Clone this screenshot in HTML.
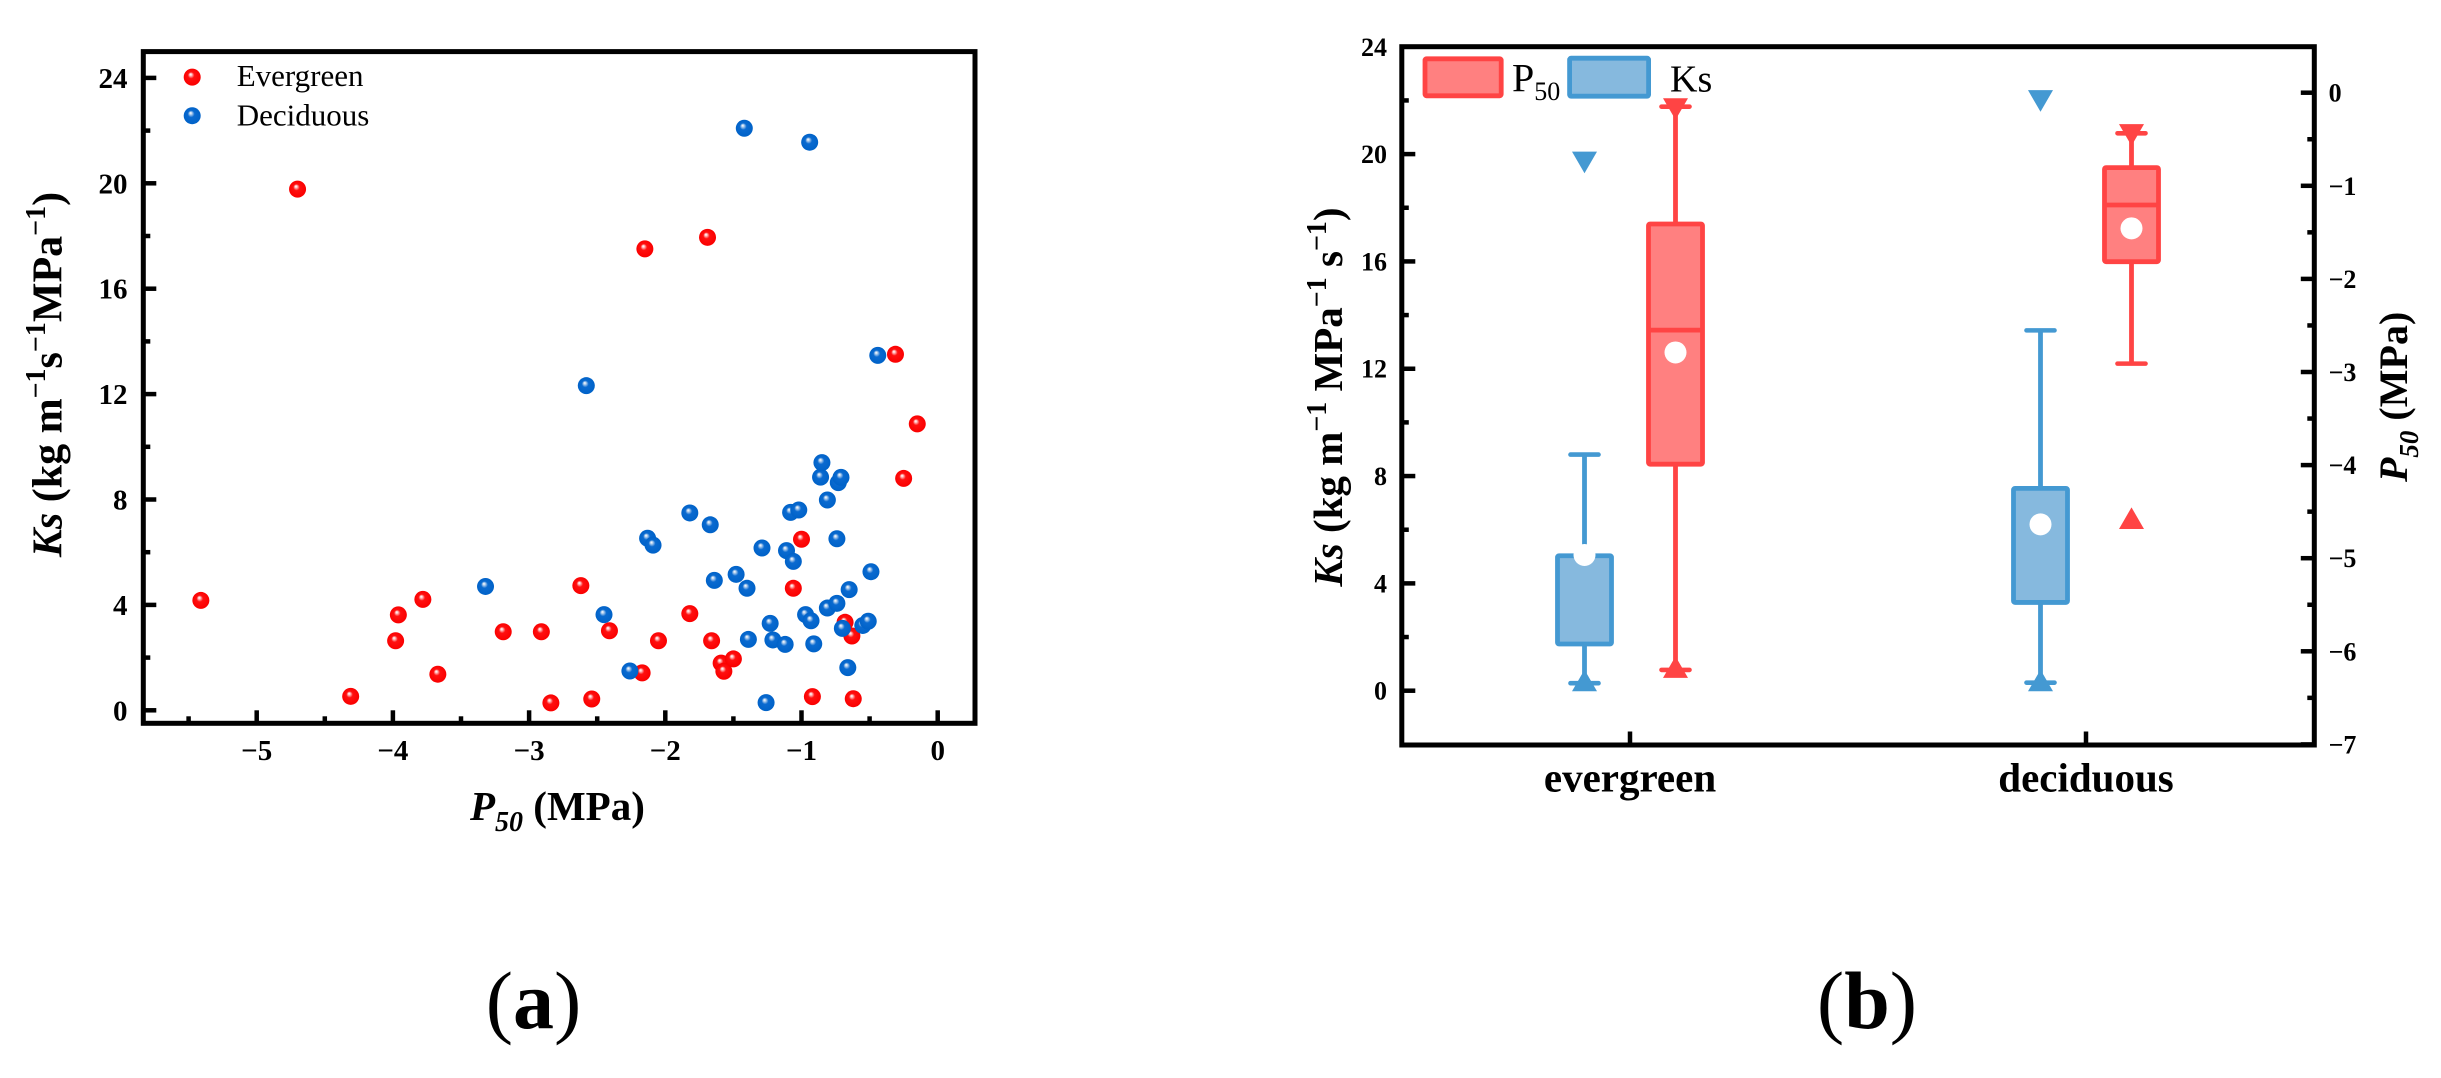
<!DOCTYPE html>
<html>
<head>
<meta charset="utf-8">
<title>Ks and P50 of evergreen and deciduous species</title>
<style>
html,body{margin:0;padding:0;background:#fff;}
svg{display:block;font-family:"Liberation Serif",serif;}
</style>
</head>
<body>
<svg id="fig" xmlns="http://www.w3.org/2000/svg" width="2441" height="1078" viewBox="0 0 2441 1078">
<defs>
<radialGradient id="ballRed" cx="50%" cy="50%" r="50%" fx="40%" fy="33%">
<stop offset="0%" stop-color="#ffffff"/><stop offset="12%" stop-color="#ffd0d0"/><stop offset="38%" stop-color="#ff1010"/><stop offset="100%" stop-color="#fa0000"/>
</radialGradient>
<radialGradient id="ballBlue" cx="50%" cy="50%" r="50%" fx="40%" fy="33%">
<stop offset="0%" stop-color="#ffffff"/><stop offset="12%" stop-color="#c8dcf2"/><stop offset="40%" stop-color="#0a6ad0"/><stop offset="100%" stop-color="#0062c8"/>
</radialGradient>
</defs>
<rect x="0" y="0" width="2441" height="1078" fill="#ffffff"/>

<g id="panelA"></g>
<g id="panelB"></g>

<g>
<circle cx="192.2" cy="77.1" r="8.5" fill="url(#ballRed)"/>
<text x="236.7" y="86" font-size="31">Evergreen</text>
<circle cx="192.2" cy="115.7" r="8.5" fill="url(#ballBlue)"/>
<text x="236.7" y="125.7" font-size="31">Deciduous</text>
</g>

<text x="470" y="820" font-size="41" font-weight="bold"><tspan font-style="italic">P</tspan><tspan font-style="italic" font-size="28" dy="11">50</tspan><tspan dy="-11"> (MPa)</tspan></text>
<text transform="translate(61.7 374.5) rotate(-90)" text-anchor="middle" font-size="42" font-weight="bold"><tspan font-style="italic">Ks</tspan> (kg m<tspan font-size="28" dy="-16.7">−1</tspan><tspan dy="16.7">s</tspan><tspan font-size="28" dy="-16.7">−1</tspan><tspan dy="16.7">MPa</tspan><tspan font-size="28" dy="-16.7">−1</tspan><tspan dy="16.7">)</tspan></text>

<g>
<rect x="1425" y="58.8" width="76.2" height="37" rx="1.5" fill="#ff8080" stroke="#ff4444" stroke-width="4.8"/>
<text x="1512" y="91.7" font-size="40">P<tspan font-size="26" dy="8.5">50</tspan></text>
<rect x="1569.6" y="58.2" width="79" height="38" rx="1.5" fill="#86b9de" stroke="#4499d2" stroke-width="4.8"/>
<text x="1670" y="91.7" font-size="38">Ks</text>
</g>

<text transform="translate(1341.8 397) rotate(-90)" text-anchor="middle" font-size="41" font-weight="bold"><tspan font-style="italic">Ks</tspan> (kg m<tspan font-size="28" dy="-16">−1</tspan><tspan dy="16"> MPa</tspan><tspan font-size="28" dy="-16">−1</tspan><tspan dy="16"> s</tspan><tspan font-size="28" dy="-16">−1</tspan><tspan dy="16">)</tspan></text>
<text transform="translate(2407 482) rotate(-90)" font-size="40" font-weight="bold"><tspan font-style="italic">P</tspan><tspan font-style="italic" font-size="27" dy="11">50</tspan><tspan dy="-11"> (MPa)</tspan></text>

<text x="533.5" y="1028" text-anchor="middle" font-size="82">(<tspan font-weight="bold">a</tspan>)</text>
<text x="1867" y="1028" text-anchor="middle" font-size="82">(<tspan font-weight="bold">b</tspan>)</text>
</svg>

<script>
/* ---------- Panel (a) scatter data ---------- */
const evergreenP50 = [-5.41,-4.70,-4.31,-3.98,-3.96,-3.78,-3.67,-3.19,-2.91,-2.84,-2.62,-2.54,-2.41,-2.17,-2.15,-2.05,-1.82,-1.69,-1.66,-1.59,-1.57,-1.50,-1.06,-1.00,-0.92,-0.68,-0.63,-0.62,-0.31,-0.25,-0.15];
const evergreenKs = [4.17,19.78,0.53,2.64,3.62,4.21,1.37,2.98,2.98,0.28,4.73,0.43,3.02,1.42,17.51,2.64,3.67,17.95,2.64,1.79,1.48,1.95,4.63,6.49,0.52,3.34,2.82,0.44,13.51,8.80,10.87];
const deciduousP50 = [-3.32,-2.58,-2.45,-2.26,-2.13,-2.09,-1.82,-1.67,-1.64,-1.48,-1.42,-1.40,-1.39,-1.29,-1.26,-1.23,-1.21,-1.12,-1.11,-1.08,-1.06,-1.02,-0.97,-0.94,-0.93,-0.91,-0.86,-0.85,-0.81,-0.81,-0.74,-0.74,-0.73,-0.71,-0.70,-0.66,-0.65,-0.55,-0.51,-0.49,-0.44];
const deciduousKs = [4.70,12.32,3.63,1.49,6.53,6.27,7.49,7.04,4.93,5.16,22.09,4.63,2.69,6.16,0.29,3.30,2.67,2.50,6.06,7.51,5.65,7.60,3.63,21.56,3.40,2.52,8.85,9.40,7.98,3.88,6.51,4.06,8.64,8.84,3.11,1.62,4.58,3.22,3.38,5.26,13.47];
const scatterXTicks = [-5,-4,-3,-2,-1,0];
const scatterXMinor = [-5.5,-4.5,-3.5,-2.5,-1.5,-0.5];
const scatterYTicks = [0,4,8,12,16,20,24];
const scatterYMinor = [2,6,10,14,18,22];

/* ---------- Panel (b) box data ---------- */
const categories = ['evergreen','deciduous'];
const ksWhiskerLow = [0.28,0.30];
const ksQ1 = [1.74,3.29];
const ksQ3 = [5.03,7.54];
const ksWhiskerHigh = [8.80,13.43];
const ksMean = [5.06,6.20];
const ksMaxMarker = [19.69,21.98];
const ksMinMarker = [0.38,0.38];
const p50WhiskerLow = [-6.20,-2.91];
const p50Q1 = [-3.99,-1.815];
const p50Median = [-2.55,-1.206];
const p50Q3 = [-1.41,-0.805];
const p50WhiskerHigh = [-0.15,-0.436];
const p50Mean = [-2.79,-1.457];
const p50MaxMarker = [-0.175,-0.454];
const p50MinMarker = [-6.17,-4.57];
const ksTicks = [0,4,8,12,16,20,24];
const ksMinor = [2,6,10,14,18,22];
const p50Ticks = [0,-1,-2,-3,-4,-5,-6,-7];
const p50Minor = [-0.5,-1.5,-2.5,-3.5,-4.5,-5.5,-6.5];

const NS = 'http://www.w3.org/2000/svg';
function make(parent, tag, attrs, text){
  const el = document.createElementNS(NS, tag);
  for (const k in attrs) el.setAttribute(k, attrs[k]);
  if (text !== undefined) el.textContent = text;
  parent.appendChild(el);
  return el;
}
function fmt(v){ return v < 0 ? '−' + Math.abs(v) : String(v); }

/* axis functions */
const xA = v => 937.7 + 136.2 * v;
const yA = v => 710.3 - 26.35 * v;
const xB = i => 1630 + 456 * i;
const yKs = v => 690.7 - 26.83 * v;
const yP = v => 92.7 + 93.1 * -v;

/* ---------- Panel (a) ---------- */
const A = document.getElementById('panelA');
const aLeft = 143.3, aRight = 975, aTop = 51.6, aBottom = 723.3;

const frameA = make(A, 'rect', {x:aLeft, y:aTop, width:aRight-aLeft, height:aBottom-aTop, fill:'none', stroke:'#000', 'stroke-width':5});



scatterYTicks.forEach(v => {
  const t = make(A, 'line', {x1:aLeft, x2:aLeft+13, y1:yA(v), y2:yA(v), stroke:'#000', 'stroke-width':4.5});
  
  
  const l = make(A, 'text', {x:127.5, y:yA(v)+10, 'text-anchor':'end', 'font-size':29, 'font-weight':'bold'}, fmt(v));
  
  
});
scatterYMinor.forEach(v => {
  const t = make(A, 'line', {x1:aLeft, x2:aLeft+7, y1:yA(v), y2:yA(v), stroke:'#000', 'stroke-width':4.5});
  
  
});
scatterXTicks.forEach(v => {
  const t = make(A, 'line', {x1:xA(v), x2:xA(v), y1:aBottom, y2:aBottom-13, stroke:'#000', 'stroke-width':4.5});
  
  
  const l = make(A, 'text', {x:xA(v), y:760, 'text-anchor':'middle', 'font-size':29, 'font-weight':'bold'}, fmt(v));
  
  
});
scatterXMinor.forEach(v => {
  const t = make(A, 'line', {x1:xA(v), x2:xA(v), y1:aBottom, y2:aBottom-7, stroke:'#000', 'stroke-width':4.5});
  
  
});
evergreenP50.forEach((v, i) => {
  const c = make(A, 'circle', {cx:xA(v), cy:yA(evergreenKs[i]), r:8.5, fill:'url(#ballRed)'});
  
  
});
deciduousP50.forEach((v, i) => {
  const c = make(A, 'circle', {cx:xA(v), cy:yA(deciduousKs[i]), r:8.5, fill:'url(#ballBlue)'});
  
  
});

/* ---------- Panel (b) ---------- */
const B = document.getElementById('panelB');
const bLeft = 1401.8, bRight = 2314.3, bTop = 46.7, bBottom = 745;

const frameB = make(B, 'rect', {x:bLeft, y:bTop, width:bRight-bLeft, height:bBottom-bTop, fill:'none', stroke:'#000', 'stroke-width':5});



ksTicks.forEach(v => {
  const t = make(B, 'line', {x1:bLeft, x2:bLeft+13.5, y1:yKs(v), y2:yKs(v), stroke:'#000', 'stroke-width':4.5});
  
  
  const l = make(B, 'text', {x:1387, y:yKs(v)+9, 'text-anchor':'end', 'font-size':26, 'font-weight':'bold'}, fmt(v));
  
  
});
ksMinor.forEach(v => {
  const t = make(B, 'line', {x1:bLeft, x2:bLeft+7, y1:yKs(v), y2:yKs(v), stroke:'#000', 'stroke-width':4.5});
  
  
});
p50Ticks.forEach(v => {
  const t = make(B, 'line', {x1:bRight, x2:bRight-13.5, y1:yP(v), y2:yP(v), stroke:'#000', 'stroke-width':4.5});
  
  
  const l = make(B, 'text', {x:2328.6, y:yP(v)+9, 'font-size':26, 'font-weight':'bold'}, fmt(v));
  
  
});
p50Minor.forEach(v => {
  const t = make(B, 'line', {x1:bRight, x2:bRight-7, y1:yP(v), y2:yP(v), stroke:'#000', 'stroke-width':4.5});
  
  
});
categories.forEach((name, i) => {
  const t = make(B, 'line', {x1:xB(i), x2:xB(i), y1:bBottom, y2:bBottom-13.5, stroke:'#000', 'stroke-width':4.5});
  
  
  const l = make(B, 'text', {x:xB(i), y:791.7, 'text-anchor':'middle', 'font-size':41, 'font-weight':'bold'}, name);
  
  
});

function triangle(parent, cx, cy, up, color, label){
  const w = 12.5, h = 10.8;
  const d = up ? `M${cx-w} ${cy+h}L${cx+w} ${cy+h}L${cx} ${cy-h}Z` : `M${cx-w} ${cy-h}L${cx+w} ${cy-h}L${cx} ${cy+h}Z`;
  const p = make(parent, 'path', {d:d, fill:color});
  
  
}
function boxGroup(i, offset, y, stroke, fill, low, q1, q3, high, median, mean, maxM, minM, series){
  const cx = xB(i) + offset;
  const g = make(B, 'g', {});
  
  

  const w = make(g, 'line', {x1:cx, x2:cx, y1:y(high), y2:y(low), stroke:stroke, 'stroke-width':4.8});
  
  

  const capTop = make(g, 'line', {x1:cx-14, x2:cx+14, y1:y(high), y2:y(high), stroke:stroke, 'stroke-width':4.6, 'stroke-linecap':'round'});
  
  

  const capLow = make(g, 'line', {x1:cx-14, x2:cx+14, y1:y(low), y2:y(low), stroke:stroke, 'stroke-width':4.6, 'stroke-linecap':'round'});
  
  

  const r = make(g, 'rect', {x:cx-27, y:y(q3), width:54, height:y(q1)-y(q3), rx:1.5, fill:fill, stroke:stroke, 'stroke-width':4.8});
  
  

  if (median !== null) {
    const m = make(g, 'line', {x1:cx-27, x2:cx+27, y1:y(median), y2:y(median), stroke:stroke, 'stroke-width':4.8});
    
    
  }
  triangle(g, cx, y(maxM), false, stroke, series + '-max-marker');
  triangle(g, cx, y(minM), true, stroke, series + '-min-marker');

  const dot = make(g, 'circle', {cx:cx, cy:y(mean), r:11, fill:'#fff'});
  
  
}
categories.forEach((name, i) => {
  boxGroup(i, -45.5, yKs, '#4499d2', '#86b9de', ksWhiskerLow[i], ksQ1[i], ksQ3[i], ksWhiskerHigh[i], null, ksMean[i], ksMaxMarker[i], ksMinMarker[i], 'ks');
  boxGroup(i, 45.5, yP, '#ff4444', '#ff8080', p50WhiskerLow[i], p50Q1[i], p50Q3[i], p50WhiskerHigh[i], p50Median[i], p50Mean[i], p50MaxMarker[i], p50MinMarker[i], 'p50');
});
</script>
</body>
</html>
